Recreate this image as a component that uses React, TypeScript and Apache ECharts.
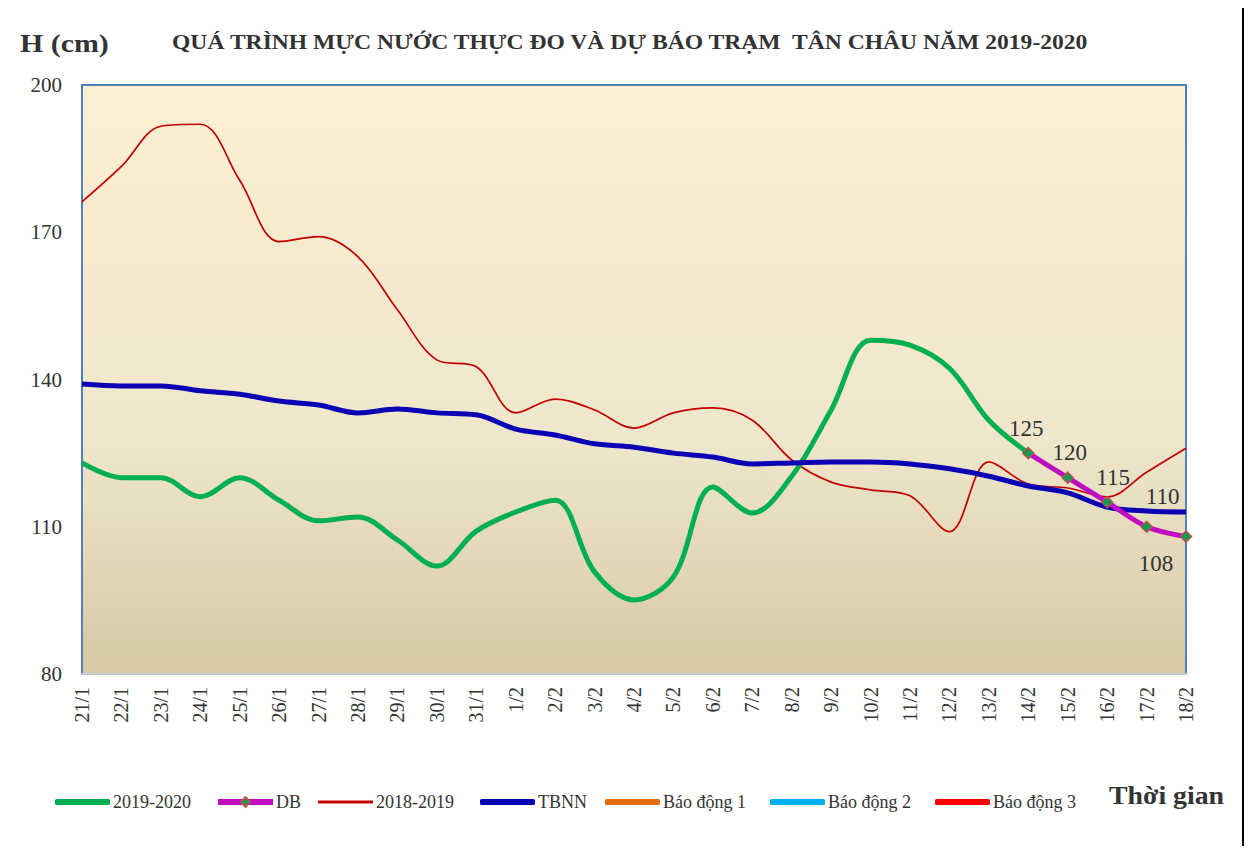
import React, { useEffect, useRef } from "react";
import * as echarts from "echarts";

const categories = [
  "21/1", "22/1", "23/1", "24/1", "25/1", "26/1", "27/1", "28/1", "29/1", "30/1", "31/1",
  "1/2", "2/2", "3/2", "4/2", "5/2", "6/2", "7/2", "8/2", "9/2", "10/2", "11/2", "12/2",
  "13/2", "14/2", "15/2", "16/2", "17/2", "18/2",
];

const yTicks = [80, 110, 140, 170, 200];

const obs2019_2020 = [
  123, 120, 120, 116.1, 120, 115.4, 111.2, 112, 107.3, 102, 109.1, 113, 115.4, 100.8, 95.1,
  99.8, 118.1, 112.8, 120.3, 133.8, 148, 147, 142.3, 131.7, 125,
];

const forecastDB = [125, 120, 115, 110, 108];

const obs2018_2019 = [
  176.2, 183.4, 191.6, 192, 180.6, 168.1, 169.1, 165, 154.2, 144, 142.6, 133.2, 136, 133.8,
  130.1, 133.2, 134.2, 131.7, 123.6, 119.1, 117.5, 116.3, 109, 123.2, 118.7, 117.9, 116.1,
  121.1, 126,
];

const tbnn = [
  139.1, 138.7, 138.7, 137.7, 137, 135.6, 134.8, 133.2, 134, 133.2, 132.8, 129.9, 128.7, 126.9,
  126.2, 125, 124.2, 122.8, 123, 123.2, 123.2, 122.8, 121.8, 120.3, 118.3, 116.9, 114, 113.2, 113,
];

const alarm1: number[] = [];
const alarm2: number[] = [];
const alarm3: number[] = [];

const legendNames = ["2019-2020", "DB", "2018-2019", "TBNN", "Báo động 1", "Báo động 2", "Báo động 3"];

const SERIF = "'Liberation Serif', 'Times New Roman', serif";

export default function App() {
  const ref = useRef<HTMLDivElement>(null);
  useEffect(() => {
    if (!ref.current) return;
    const chart = echarts.init(ref.current, undefined, { renderer: "svg" });
    const dbStart = obs2019_2020.length - 1;
    const dbData = categories.map((_, i) =>
      i >= dbStart && i - dbStart < forecastDB.length ? forecastDB[i - dbStart] : null
    );
    const labelCfg = [
      { position: "top", offset: [-2, -2] },
      { position: "top", offset: [2, -2] },
      { position: "top", offset: [6, -2] },
      { position: "top", offset: [16, -8] },
      { position: "bottom", offset: [-30, 4] },
    ];
    const dbSeriesData = dbData.map((v, i) => {
      if (v == null) return null;
      const k = i - dbStart;
      return {
        value: v,
        label: {
          show: true,
          position: labelCfg[k].position,
          offset: labelCfg[k].offset,
        },
      };
    });
    const tickMin = yTicks[0];
    const tickMax = yTicks[yTicks.length - 1];
    const tickInterval = yTicks[1] - yTicks[0];

    const legendLeft = [50, 210, 313, 475, 600, 765, 930];
    const legends = legendNames.map((name, i) => {
      const isThin = name === "2018-2019";
      const isDB = name === "DB";
      return {
        left: legendLeft[i],
        top: 788,
        itemWidth: 55,
        itemHeight: isDB ? 12 : isThin ? 3 : 6,
        itemGap: 4,
        icon: isDB ? undefined : "roundRect",
        lineStyle: isDB ? { width: 6 } : undefined,
        textStyle: { fontFamily: SERIF, fontSize: 18, color: "#333333", padding: [0, 0, 0, -2] },
        data: [name],
      };
    });

    chart.setOption({
      animation: false,
      backgroundColor: "#ffffff",
      textStyle: { fontFamily: SERIF },
      graphic: [
        {
          type: "rect",
          shape: { x: 4, y: 2, width: 1239, height: 860 },
          style: { fill: "none", stroke: "#000000", lineWidth: 2 },
          silent: true,
          z: 100,
        },
        {
          type: "text",
          x: 20,
          y: 30,
          scaleX: 1.15,
          style: { text: "H (cm)", font: `bold 26px ${SERIF}`, fill: "#333333" },
        },
        {
          type: "text",
          x: 172,
          y: 33,
          scaleX: 1.18,
          style: {
            text: "QUÁ TRÌNH MỰC NƯỚC THỰC ĐO VÀ DỰ BÁO TRẠM  TÂN CHÂU NĂM 2019-2020",
            font: `bold 20px ${SERIF}`,
            fill: "#333333",
          },
        },
        {
          type: "text",
          x: 1109,
          y: 782,
          scaleX: 1.07,
          style: { text: "Thời gian", font: `bold 26px ${SERIF}`, fill: "#333333" },
        },
      ],
      legend: legends,
      grid: {
        left: 82,
        right: 66,
        top: 85,
        bottom: 180,
        show: true,
        borderColor: "#4F81BD",
        borderWidth: 2,
        backgroundColor: new echarts.graphic.LinearGradient(0, 0, 0, 1, [
          { offset: 0, color: "#FDEFD2" },
          { offset: 0.6, color: "#EFE6CC" },
          { offset: 1, color: "#D6C9A3" },
        ]),
      },
      xAxis: {
        type: "category",
        data: categories,
        boundaryGap: false,
        axisLine: { show: true, lineStyle: { color: "#BFC8D6", width: 2 } },
        axisTick: { show: false },
        axisLabel: {
          rotate: 90,
          interval: 0,
          margin: 13,
          fontFamily: SERIF,
          fontSize: 20,
          color: "#333333",
        },
        splitLine: { show: false },
      },
      yAxis: {
        type: "value",
        min: tickMin,
        max: tickMax,
        interval: tickInterval,
        axisLine: { show: false },
        axisTick: { show: false },
        splitLine: { show: false },
        axisLabel: { margin: 20, fontFamily: SERIF, fontSize: 21, color: "#333333" },
      },
      series: [
        {
          name: "2019-2020",
          type: "line",
          data: obs2019_2020,
          smooth: 0.35,
          symbol: "none",
          lineStyle: { color: "#00B050", width: 5 },
          itemStyle: { color: "#00B050" },
          z: 4,
        },
        {
          name: "DB",
          type: "line",
          data: dbSeriesData,
          smooth: 0.3,
          symbol: "diamond",
          symbolSize: 11,
          lineStyle: { color: "#C00CC0", width: 5 },
          itemStyle: { color: "#00A050", borderColor: "#C0504D", borderWidth: 1.5 },
          label: {
            show: false,
            fontFamily: SERIF,
            fontSize: 23,
            color: "#333333",
          },
          z: 6,
        },
        {
          name: "2018-2019",
          type: "line",
          data: obs2018_2019,
          smooth: 0.35,
          symbol: "none",
          lineStyle: { color: "#C00000", width: 1.7 },
          itemStyle: { color: "#C00000" },
          z: 3,
        },
        {
          name: "TBNN",
          type: "line",
          data: tbnn,
          smooth: 0.35,
          symbol: "none",
          lineStyle: { color: "#0A00B4", width: 5 },
          itemStyle: { color: "#0A00B4" },
          z: 5,
        },
        {
          name: "Báo động 1",
          type: "line",
          data: alarm1,
          symbol: "none",
          lineStyle: { color: "#E46C0A", width: 5 },
          itemStyle: { color: "#E46C0A" },
        },
        {
          name: "Báo động 2",
          type: "line",
          data: alarm2,
          symbol: "none",
          lineStyle: { color: "#00B0F0", width: 5 },
          itemStyle: { color: "#00B0F0" },
        },
        {
          name: "Báo động 3",
          type: "line",
          data: alarm3,
          symbol: "none",
          lineStyle: { color: "#FF0000", width: 5 },
          itemStyle: { color: "#FF0000" },
        },
      ],
    });
    return () => chart.dispose();
  }, []);
  return <div ref={ref} style={{ width: 1252, height: 854, margin: -8 }} />;
}
